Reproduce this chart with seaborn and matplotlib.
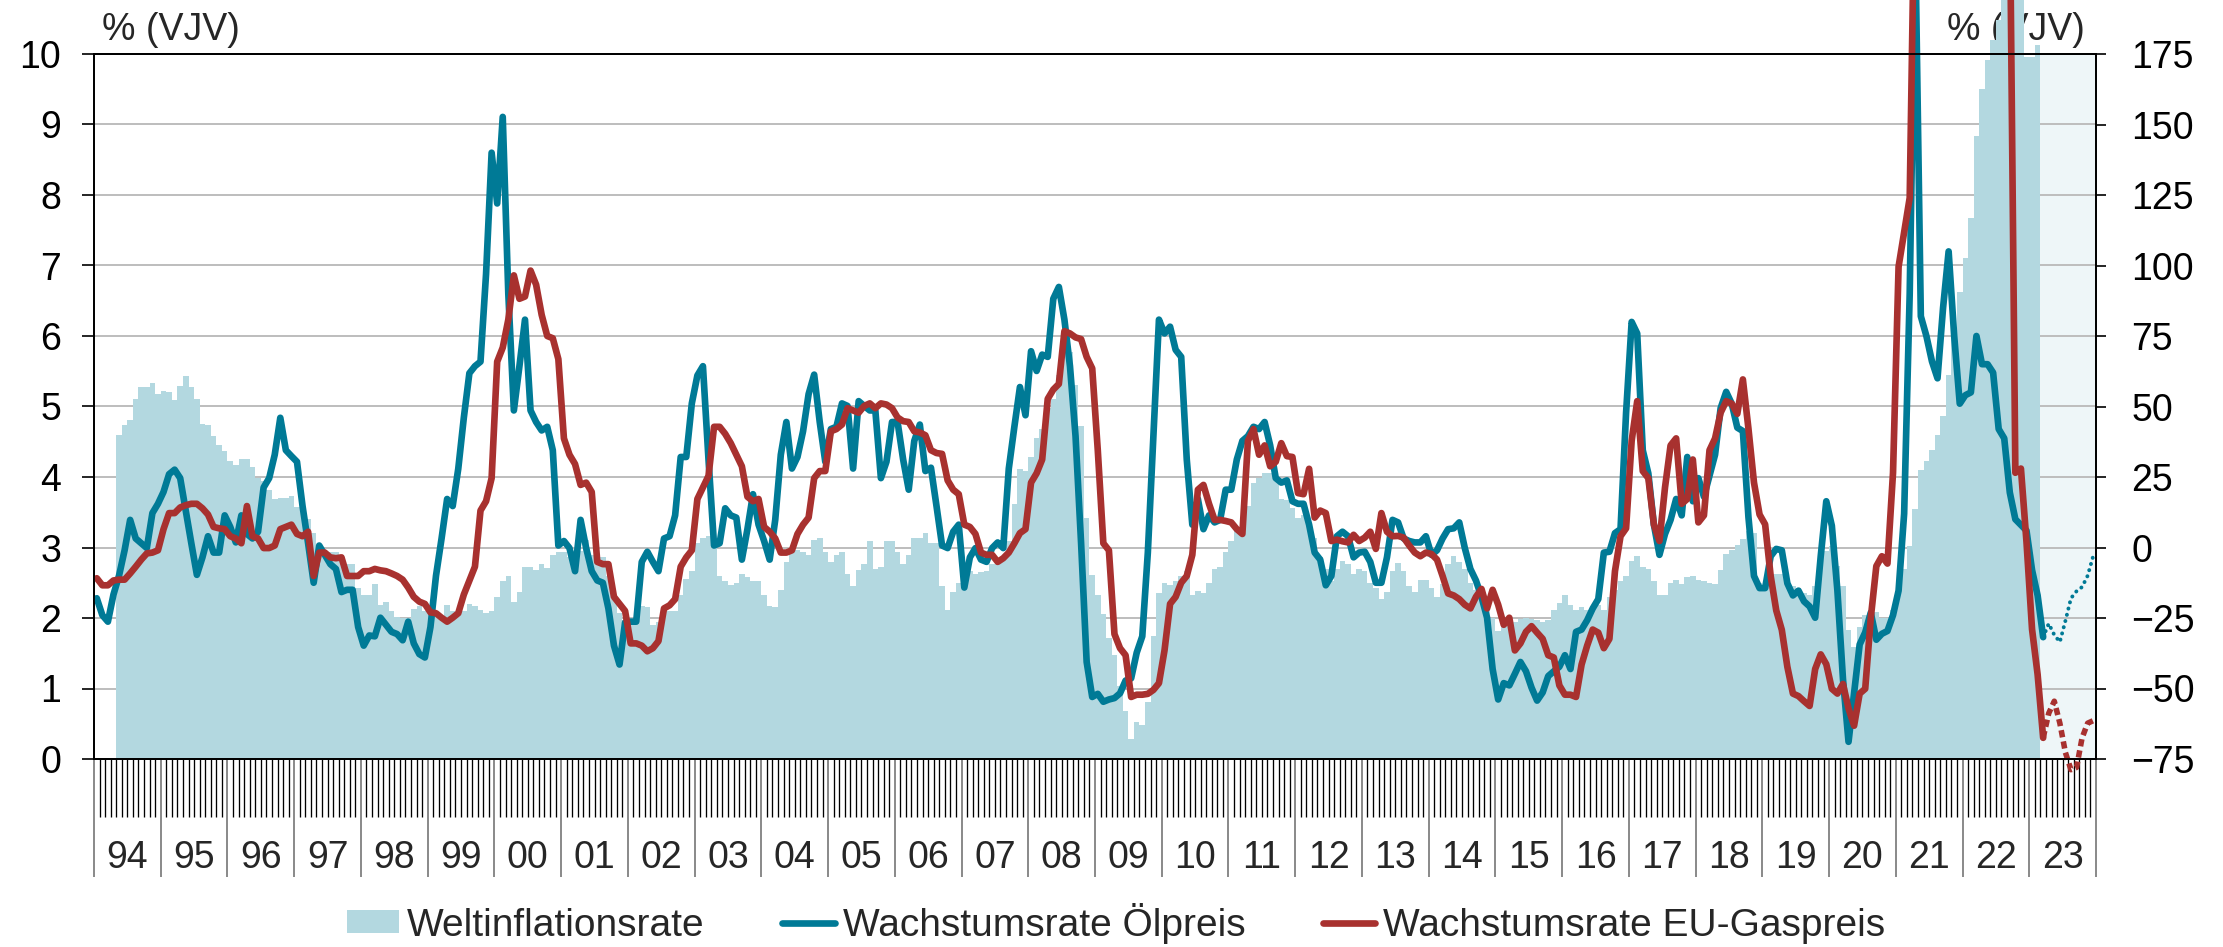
import numpy as np
import matplotlib
matplotlib.use("Agg")
import matplotlib.pyplot as plt
from matplotlib.patches import Patch
from matplotlib.lines import Line2D
import seaborn as sns

# month index 0 = Jan 1994, 359 = Dec 2023
year_labels = ["94", "95", "96", "97", "98", "99", "00", "01", "02", "03",
               "04", "05", "06", "07", "08", "09", "10", "11", "12", "13",
               "14", "15", "16", "17", "18", "19", "20", "21", "22", "23"]
legend_labels = ["Weltinflationsrate", "Wachstumsrate Ölpreis",
                 "Wachstumsrate EU-Gaspreis"]

# world inflation (left axis, %), May 1994 .. Feb 2023
infl_start = 4
inflation = [
    4.59, 4.74, 4.81, 5.10, 5.28, 5.27, 5.33, 5.18,
    5.22, 5.20, 5.09, 5.29, 5.43, 5.27, 5.10, 4.75, 4.74, 4.58, 4.46, 4.37,
    4.23, 4.17, 4.25, 4.25, 4.14, 3.99, 3.95, 3.82, 3.69, 3.70, 3.70, 3.73,
    3.58, 3.55, 3.40, 3.20, 3.00, 2.93, 2.93, 2.93, 2.90, 2.76, 2.76, 2.43,
    2.32, 2.32, 2.48, 2.19, 2.23, 2.10, 2.02, 2.00, 2.00, 2.13, 2.17, 2.10,
    2.05, 2.05, 1.97, 2.19, 2.10, 2.07, 2.10, 2.20, 2.17, 2.12, 2.07, 2.10,
    2.30, 2.53, 2.60, 2.23, 2.37, 2.73, 2.72, 2.68, 2.76, 2.71, 2.89, 2.93,
    2.93, 2.86, 2.66, 2.95, 3.10, 2.90, 2.88, 2.86, 2.60, 2.27, 2.07, 1.97,
    1.97, 1.94, 2.17, 2.15, 1.90, 1.94, 2.12, 2.10, 2.10, 2.33, 2.56, 2.66,
    3.06, 3.13, 3.16, 2.99, 2.60, 2.53, 2.47, 2.50, 2.63, 2.58, 2.53, 2.53,
    2.33, 2.17, 2.15, 2.40, 2.80, 2.98, 2.96, 2.93, 2.89, 3.11, 3.14, 2.93,
    2.80, 2.89, 2.93, 2.63, 2.45, 2.68, 2.76, 3.09, 2.70, 2.73, 3.09, 3.09,
    2.93, 2.76, 2.89, 3.13, 3.13, 3.21, 3.07, 3.06, 2.45, 2.12, 2.37, 2.50,
    2.48, 2.66, 2.63, 2.65, 2.66, 2.76, 2.83, 2.86, 3.09, 3.62, 4.12, 4.08,
    4.28, 4.55, 4.68, 4.98, 5.11, 5.44, 5.90, 5.77, 5.31, 4.73, 3.42, 2.61,
    2.33, 2.06, 1.71, 1.47, 1.04, 0.68, 0.28, 0.52, 0.48, 0.81, 1.74, 2.35,
    2.50, 2.47, 2.53, 2.60, 2.66, 2.33, 2.39, 2.35, 2.50, 2.70, 2.73, 2.93,
    3.09, 3.25, 3.39, 3.59, 3.92, 3.99, 4.05, 4.05, 3.99, 3.69, 3.67, 3.56,
    3.42, 3.46, 3.32, 3.13, 2.86, 2.70, 2.53, 2.70, 2.81, 2.76, 2.63, 2.70,
    2.66, 2.50, 2.43, 2.27, 2.37, 2.66, 2.78, 2.66, 2.45, 2.37, 2.54, 2.54,
    2.43, 2.30, 2.48, 2.76, 2.88, 2.80, 2.70, 2.50, 2.40, 2.33, 2.19, 2.00,
    1.82, 1.90, 1.97, 1.94, 1.99, 2.00, 1.99, 1.97, 1.94, 1.97, 2.12, 2.21,
    2.33, 2.19, 2.12, 2.15, 2.12, 2.15, 2.19, 2.12, 2.30, 2.40, 2.53, 2.60,
    2.81, 2.88, 2.73, 2.70, 2.52, 2.32, 2.33, 2.50, 2.54, 2.48, 2.58, 2.60,
    2.54, 2.53, 2.50, 2.48, 2.68, 2.91, 2.96, 3.03, 3.12, 3.24, 3.20, 2.50,
    2.40, 2.74, 2.63, 2.63, 2.46, 2.46, 2.42, 2.35, 2.32, 2.46, 2.95, 2.95,
    3.02, 2.74, 2.46, 1.83, 1.59, 1.87, 2.04, 2.08, 2.08, 2.00, 2.00, 2.11,
    2.39, 2.70, 3.02, 3.55, 4.10, 4.22, 4.38, 4.60, 4.86, 5.45, 6.00, 6.63,
    7.10, 7.67, 8.83, 9.51, 9.92, 10.20, 10.48, 11.00, 11.20, 11.00, 10.80, 9.96,
    9.96, 10.13,
]

# oil price growth (right axis, % yoy), Jan 1994 .. Mar 2023
oil = [
    -18, -24, -26.3, -16.7, -10, -1, 9.8, 3.2, 1.5, -0.2, 12.2, 15.5,
    19.7, 26, 27.6, 24.6, 13, 1.5, -9.7, -3.5, 4, -1.8, -1.8, 11.4,
    7.3, 1.8, 11.4, 4.8, 3.2, 5.6, 21.3, 24.6, 32.9, 46, 34.5, 32.4,
    30.4, 14.7, 1.5, -12.5, 0.7, -2.6, -5.9, -7.6, -15.8, -15, -15, -28.2,
    -34.8, -31.2, -31.5, -24.9, -27.4, -29.9, -30.7, -32.9, -26.3, -34, -37.8, -39,
    -28.2, -10, 3.2, 17.2, 14.7, 27.9, 46, 61.8, 64.3, 65.9, 97, 140,
    122, 152.7, 90, 48.6, 64.3, 80.8, 48.6, 44.5, 41.5, 42.8, 34.5, 0.7,
    2.3, -0.2, -8.4, 9.8, -0.2, -8.4, -11.7, -12.5, -21.6, -34.8, -41.5, -26.6,
    -26.3, -26.3, -5.1, -1.5, -5.1, -8.4, 3.2, 4, 11.4, 32.1, 32.1, 51.1,
    61, 64.3, 31.2, 0.7, 1.5, 13.9, 11.4, 10.6, -4.3, 6.5, 18.9, 8.1,
    2.3, -4.3, 9.8, 32.9, 44.5, 28, 32.1, 41.2, 54.4, 61.3, 44.5, 30.4,
    42, 42.8, 51.1, 50.2, 28, 51.9, 50.2, 48.6, 48.6, 24.6, 30.4, 44.5,
    44.5, 31.2, 20.5, 37.8, 43.6, 27.1, 28.3, 14.7, 0.7, -0.2, 5.6, 8.1,
    -14.2, -3.5, -0.2, -4.3, -5.1, -0.2, 1.8, -0.2, 28, 42.8, 56.9, 46.9,
    69.6, 62.6, 68.4, 67.6, 88.2, 92.4, 80.8, 64.3, 39.5, 1.5, -40.6, -53,
    -51.9, -54.7, -53.9, -53.4, -51.7, -47.2, -46.4, -37.3, -31.5, -1.8, 39.5, 80.8,
    75.9, 78.3, 70.1, 67.6, 31.2, 8.1, 17.2, 6.5, 11.4, 8.9, 9.8, 20.5,
    20.5, 31.2, 37.8, 39.5, 42.8, 42, 44.5, 36.2, 24.6, 23, 23.8, 16.4,
    15.5, 15.5, 8.1, -1.8, -4.3, -13.4, -10.1, 4, 5.6, 4, -3.5, -1.8,
    -1.5, -5.1, -12.5, -12.5, -3.5, 9.8, 8.9, 3.2, 2.3, 1.8, 1.8, 4,
    -2.6, -1, 3.2, 6.5, 6.8, 8.9, -0.2, -7.6, -11.7, -17.5, -24.9, -43.1,
    -53.9, -48.1, -48.9, -44.8, -40.6, -43.9, -49.7, -54.3, -51.4, -45.6, -43.9, -42.3,
    -38.2, -43.1, -29.9, -29.1, -25.8, -21.6, -18.3, -1.8, -1.5, 5.1, 6.5, 47.8,
    80, 75.9, 34.5, 26.3, 8.1, -2.6, 4.8, 9.8, 17.2, 11.4, 32.1, 16.4,
    24.6, 18, 25.4, 32.9, 49.4, 55.2, 51, 42.5, 41.3, 10.8, -10.1, -14.4,
    -14.4, -3.1, -0.5, -1, -12.7, -17, -15.3, -19.1, -20.9, -24.9, -3.1, 16.4,
    7.7, -15.3, -46.6, -68.9, -51.8, -34.4, -30.1, -23.1, -32.7, -30.6, -29.6, -24,
    -15.3, 12, 90, 215, 82, 75, 66, 60, 85, 105, 75, 51,
    54, 55, 75, 65, 65, 62, 42, 38.7, 19.5, 10, 8, 6,
    -8, -17, -31.8,
]

# EU gas price growth (right axis, % yoy), Jan 1994 .. Mar 2023
gas = [
    -10.9, -13.4, -13.4, -11.7, -11.4, -11.4, -9.2, -6.8, -4.3, -2.1, -1.8, -1,
    6.5, 12.2, 12.2, 14.2, 15, 15.5, 15.5, 13.9, 11.7, 7.3, 6.8, 6.5,
    4, 3.2, 1.5, 14.7, 4, 3.2, -0.2, -0.2, 0.7, 6.5, 7.3, 8.1,
    4.8, 4, 5.6, -10.1, -1.8, -1.8, -3.5, -3.8, -3.5, -10.1, -10.1, -10.1,
    -8.4, -8.4, -7.6, -8.1, -8.4, -9.2, -10.1, -11.4, -14.2, -17.5, -19.2, -20,
    -23, -23.3, -24.9, -26.3, -24.9, -23.3, -16.7, -11.7, -6.8, 13.1, 16.4, 24.6,
    65.9, 70.9, 80.8, 96.5, 88.2, 89, 98.2, 93.2, 82.5, 75, 74.2, 66.8,
    38.7, 32.9, 29.6, 22.2, 23, 19.7, -5.1, -5.9, -5.9, -17.5, -20, -22.5,
    -34, -34, -34.8, -36.8, -35.7, -33.2, -21.6, -20.5, -18.3, -6.8, -3.5, -1,
    17.2, 21.3, 25.4, 42.8, 42.8, 40.3, 37, 32.9, 28.8, 18, 16.4, 17.2,
    7.3, 5.6, 3.2, -1.8, -1.8, -1, 4.8, 8.1, 10.6, 24.6, 27.1, 27.1,
    41.2, 42, 43.6, 49.4, 48.6, 47.8, 50.2, 51.1, 49.4, 51.1, 50.7, 49.4,
    46.1, 44.8, 44.5, 41.2, 40.8, 39.8, 34.5, 33.5, 33.2, 23.8, 20.5, 18.9,
    8.1, 7.3, 4.8, -1.8, -2.6, -2.6, -5.1, -3.8, -1.8, 1.5, 5.1, 6.5,
    23, 26.3, 31.2, 52.7, 56, 58, 76.7, 75.9, 74.5, 73.9, 67.6, 63.5,
    34.5, 1.5, -1, -30.7, -35.7, -38.2, -53, -52.2, -52.2, -51.9, -50.5, -48.1,
    -36.5, -20, -17.5, -12.5, -10.1, -2.6, 20.5, 22.2, 15.5, 9.8, 9.8, 9.4,
    8.9, 6.5, 4.8, 37.8, 42, 32.9, 36.2, 28.8, 30.4, 37, 32.4, 32.1,
    19.3, 18.9, 27.9, 10.6, 13.1, 12.2, 2.3, 2.8, 2.2, 1.8, 4.5, 2.3,
    3.5, 5.6, -0.5, 12.2, 5.6, 4, 4.1, 3.5, 0.7, -1.8, -3.1, -1.8,
    -2.3, -4.3, -10.1, -16.3, -17, -18.3, -20.3, -21.6, -17.5, -14.7, -21.6, -15,
    -20.3, -27.4, -24.9, -36.5, -34, -29.9, -27.9, -30.2, -32.4, -38.2, -39, -48.9,
    -52.2, -52.2, -53, -41.5, -34.8, -29.1, -30.2, -35.7, -32.4, -8.4, 4, 6.8,
    37.8, 51.9, 27.1, 24.6, 8.1, 2.3, 21.3, 36.2, 38.7, 15.5, 17.2, 31.2,
    8.9, 11.4, 34.5, 38.7, 47.8, 51.9, 51, 47.4, 59.6, 42.2, 23, 11.7,
    8.2, -10.1, -22.3, -29.2, -42.3, -51.8, -52.7, -54.5, -56.2, -43.1, -37.9, -41.4,
    -50.1, -51.8, -48.4, -57.1, -63.2, -51.8, -50.1, -25, -6.6, -3.1, -5.7, 26.5,
    99.6, 111.8, 124, 250, 350, 420, 450, 470, 500, 600, 550, 450,
    380, 300, 350, 280, 320, 290, 300, 300, 230, 26.5, 28, 2,
    -29, -45, -67.5,
]

# forecasts Apr .. Dec 2023
oil_forecast = [-27, -31, -33.5, -26, -18, -15.5, -14, -10, -3]
gas_forecast = [-58.8, -54.5, -62.3, -72.7, -78.8, -78, -67.5, -62.3, -61.4]

BAR = "#b3d8e0"
TEAL = "#007a96"
RED = "#a8312f"
SHADE = "#eef6f8"
FS = 27

sns.set_theme(style="white")
plt.rcParams["font.family"] = ["Liberation Sans", "DejaVu Sans"]

W, H = 2223, 947
fig = plt.figure(figsize=(W / 100, H / 100), dpi=100)
ax = fig.add_axes([94 / W, 1 - 759 / H, 2002 / W, 705 / H])

ax.set_xlim(0, 360)
ax.set_ylim(0, 10)
ax.set_axisbelow(True)
ax.axvspan(350, 360, color=SHADE, lw=0, zorder=0.2)
ax.yaxis.grid(True, color="#bdbdbd", lw=1.4)
ax.bar(np.arange(infl_start, infl_start + len(inflation)) + 0.5, inflation,
       width=1.0, color=BAR, linewidth=0, zorder=2, clip_on=False)

ax.set_yticks(range(11))
ax.tick_params(axis="y", direction="out", left=True, length=8.6, width=1.2,
               labelsize=FS, pad=15, colors="black")
ax.set_xticks(np.arange(0, 361, 12))
ax.set_xticks(np.arange(0, 361), minor=True)
ax.tick_params(axis="x", which="major", direction="out", bottom=True,
               length=85, width=1.3, color="#808080", labelbottom=False)
ax.tick_params(axis="x", which="minor", direction="out", bottom=True,
               length=42, width=0.95, color="black")
for s in ax.spines.values():
    s.set_visible(True)
    s.set_color("black")
    s.set_linewidth(1.3)

sec = ax.secondary_xaxis("bottom")
sec.set_xticks(np.arange(6, 360, 12), labels=year_labels)
sec.tick_params(length=0, pad=58, labelsize=FS)
sec.spines["bottom"].set_visible(False)

ax2 = ax.twinx()
ax2.set_ylim(-75, 175)
ax2.set_yticks(np.arange(-75, 176, 25))
ax2.tick_params(axis="y", direction="out", right=True, length=7.5, width=1.2,
                labelsize=FS, pad=18, colors="black")
ax2.grid(False)
for s in ax2.spines.values():
    s.set_visible(True)
    s.set_color("black")
    s.set_linewidth(1.3)

x_hist = np.arange(len(oil)) + 0.5
x_fc = np.arange(len(oil) - 1, len(oil) + len(oil_forecast)) + 0.5
sns.lineplot(x=x_hist, y=oil, ax=ax2, color=TEAL, lw=4.8, clip_on=False,
             solid_joinstyle="round", solid_capstyle="round")
sns.lineplot(x=x_hist, y=gas, ax=ax2, color=RED, lw=4.8, clip_on=False,
             solid_joinstyle="round", solid_capstyle="round")
ax2.plot(x_fc, [oil[-1]] + oil_forecast, color=TEAL, lw=2.8,
         linestyle=(0, (0.05, 1.6)), dash_capstyle="round", clip_on=False)
ax2.plot(x_fc, [gas[-1]] + gas_forecast, color=RED, lw=4.0,
         linestyle=(0, (1.3, 0.75)), clip_on=False)

fig.text(102 / W, 1 - 30 / H, "% (VJV)", fontsize=FS, ha="left", va="center",
         zorder=-1)
fig.text(2085 / W, 1 - 30 / H, "% (VJV)", fontsize=FS, ha="right", va="center",
         zorder=-1)

handles = [Patch(facecolor=BAR, edgecolor="none"),
           Line2D([], [], color=TEAL, lw=4.8),
           Line2D([], [], color=RED, lw=4.8)]
fig.legend(handles, legend_labels, loc="center", bbox_to_anchor=(0.502, 1 - 923 / H),
           ncol=3, frameon=False, fontsize=28, handlelength=1.35, handleheight=0.55,
           columnspacing=2.0, handletextpad=0.2, borderaxespad=0, borderpad=0)

fig.savefig("out.png", dpi=100)
plt.close(fig)
